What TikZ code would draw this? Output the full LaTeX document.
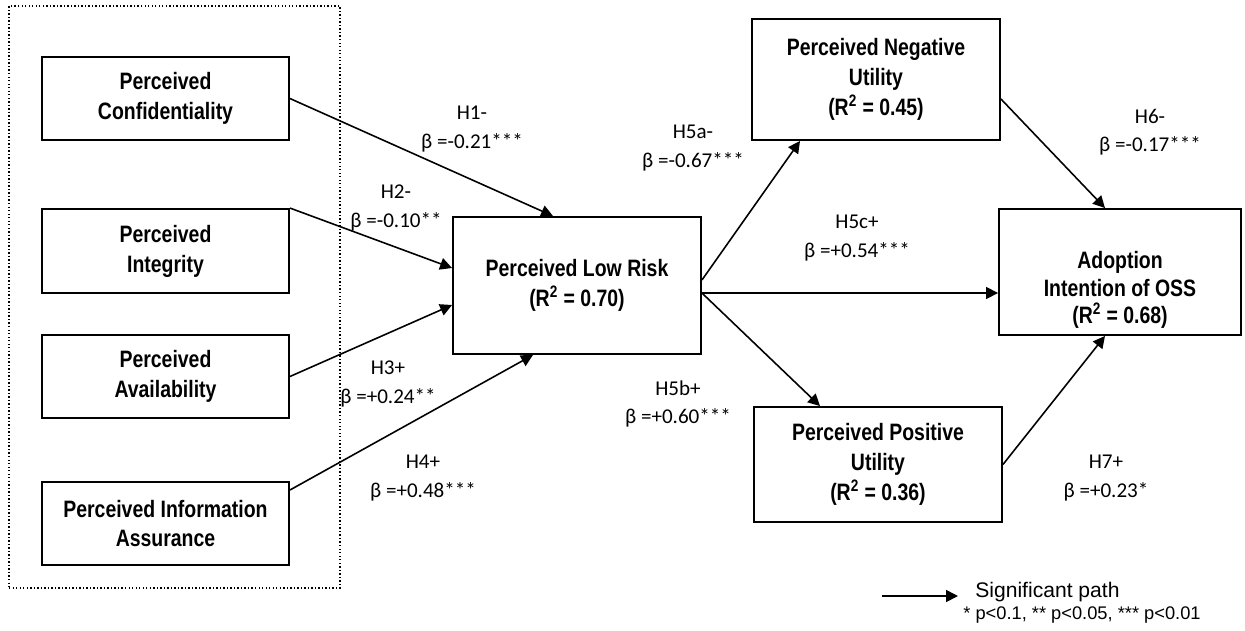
\documentclass[tikz,border=0pt]{standalone}
\usepackage{fontspec}
\setmainfont{Liberation Sans}
\newfontfamily\boxfont[FakeStretch=0.82]{Liberation Sans}
\newfontfamily\coeffont{Carlito}
\usetikzlibrary{arrows.meta, positioning, calc}

\begin{document}
\begin{tikzpicture}[
        x=0.02cm, y=-0.02cm,
        construct/.style={rectangle, draw=black, line width=1.1pt, align=center, font=\boxfont\bfseries\fontsize{13.5}{17}\selectfont, inner sep=2pt},
        boxtext/.style={align=center, font=\boxfont\bfseries\fontsize{13.5}{15.5}\selectfont, inner sep=0pt},
        group/.style={rectangle, draw=black, line width=0.8pt, dash pattern=on 0.8pt off 1.2pt},
        hyp/.style={-{Triangle[length=6.8pt, width=6.8pt]}, line width=0.9pt, draw=black},
        coef/.style={font=\coeffont\fontsize{12}{16}\selectfont, align=center, inner sep=1pt},
        keytext/.style={inner sep=0pt}
    ]
        \useasboundingbox (0,0) rectangle (1245,630);
        % security perceptions
        \node[group, minimum width=6.62cm, minimum height=11.64cm] (grp) at (174.5,297) {};
        \node[construct, minimum width=4.94cm, minimum height=1.66cm] (conf) at (165.5,98.5) {Perceived\\Confidentiality};
        \node[construct, minimum width=4.94cm, minimum height=1.68cm] (integ) at (165.5,251) {Perceived\\Integrity};
        \node[construct, minimum width=4.94cm, minimum height=1.66cm] (avail) at (165.5,376.5) {Perceived\\Availability};
        \node[construct, minimum width=4.94cm, minimum height=1.66cm] (assur) at (165.5,523.5) {Perceived Information\\Assurance};
        % mediators and outcome
        \node[construct, minimum width=4.96cm, minimum height=2.74cm] (risk) at (577,285.5) {Perceived Low Risk\\(R\textsuperscript{2} = 0.70)};
        \node[construct, minimum width=4.96cm, minimum height=2.42cm] (neg) at (876,79.5) {Perceived Negative\\Utility\\(R\textsuperscript{2} = 0.45)};
        \node[construct, minimum width=4.96cm, minimum height=2.30cm] (pos) at (878,464.5) {Perceived Positive\\Utility\\(R\textsuperscript{2} = 0.36)};
        \node[construct, minimum width=4.84cm, minimum height=2.52cm] (adopt) at (1120,272) {};
        \node[boxtext] (adopttxt) at ([yshift=-0.36cm]adopt.center) {Adoption\\Intention of OSS\\(R\textsuperscript{2} = 0.68)};
        % paths
        \coordinate (rout) at ([yshift=-0.15cm]risk.east);
        \draw[hyp] (conf.east) -- ([xshift=-0.48cm]risk.north);
        \draw[hyp] (integ.north east) -- ([yshift=0.35cm]risk.west);
        \draw[hyp] (avail.east) -- ([yshift=-0.39cm]risk.west);
        \draw[hyp] ([yshift=0.67cm]assur.east) -- ([xshift=-0.88cm]risk.south);
        \draw[hyp] ([yshift=0.11cm]risk.east) -- ([xshift=-1.52cm]neg.south);
        \draw[hyp] (rout) -- (rout -| adopt.west);
        \draw[hyp] (rout) -- ([xshift=-1.16cm]pos.north);
        \draw[hyp] ([yshift=-0.39cm]neg.east) -- ([xshift=-0.3cm]adopt.north);
        \draw[hyp] (pos.east) -- ([xshift=-0.3cm]adopt.south);
        % coefficients
        \node[coef] (h1) at (472,129) {H1-\\β =-0.21***};
        \node[coef] (h2) at (396,208) {H2-\\β =-0.10**};
        \node[coef] (h3) at (388,384) {H3+\\β =+0.24**};
        \node[coef] (h4) at (423,478) {H4+\\β =+0.48***};
        \node[coef] (h5a) at (693,148) {H5a-\\β =-0.67***};
        \node[coef] (h5c) at (857,238) {H5c+\\β =+0.54***};
        \node[coef] (h5b) at (678,404) {H5b+\\β =+0.60***};
        \node[coef] (h6) at (1150,132) {H6-\\β =-0.17***};
        \node[coef] (h7) at (1106,478) {H7+\\β =+0.23*};
        % legend
        \coordinate (legA) at (882,596);
        \node[keytext, anchor=west, font=\fontsize{12}{14}\selectfont] (sig) at (975,592) {Significant path};
        \node[keytext, font=\fontsize{10.4}{12}\selectfont] (pvals) at (1082,615) {* p<0.1, ** p<0.05, *** p<0.01};
        \draw[hyp, shorten >=0.34cm] (legA) -- (legA -| sig.west);
    \end{tikzpicture}
\end{document}
